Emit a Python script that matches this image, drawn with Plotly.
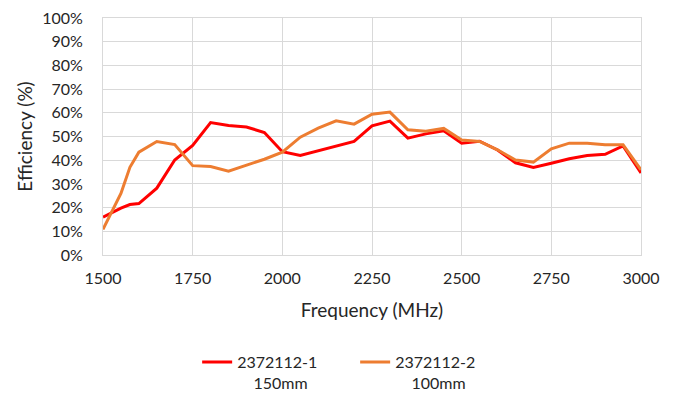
import plotly.graph_objects as go

freq = [1500, 1550, 1575, 1600, 1650, 1700, 1750, 1800, 1850, 1900, 1950, 2000,
        2050, 2100, 2150, 2200, 2250, 2300, 2350, 2400, 2450, 2500, 2550, 2600,
        2650, 2700, 2750, 2800, 2850, 2900, 2950, 3000]

eff_150mm = [16.0, 19.8, 21.3, 21.7, 28.2, 40.1, 46.2, 55.9, 54.6, 54.0, 51.7, 43.6,
             42.0, 44.0, 46.0, 47.9, 54.5, 56.5, 49.3, 51.1, 52.4, 47.2, 48.0, 44.3,
             38.9, 36.9, 38.7, 40.6, 42.0, 42.5, 46.0, 34.6]

eff_100mm = [10.8, 26.0, 37.0, 43.4, 47.9, 46.6, 37.7, 37.3, 35.4, 38.0, 40.4, 43.4,
             49.7, 53.5, 56.6, 55.2, 59.4, 60.3, 52.8, 52.2, 53.4, 48.5, 47.9, 44.4,
             40.1, 39.2, 44.8, 47.2, 47.2, 46.5, 46.5, 35.9]

names = ["2372112-1<br>\u00a0\u00a0\u00a0\u00a0150mm", "2372112-2<br>\u00a0\u00a0\u00a0\u00a0100mm"]
colors = ["#FF0000", "#ED7D31"]

fig = go.Figure()
for ys, name, col in zip([eff_150mm, eff_100mm], names, colors):
    fig.add_trace(go.Scatter(
        x=freq, y=[v / 100 for v in ys], mode="lines", name=name,
        line=dict(color=col, width=3)))

font = dict(family="Lato, Calibri, sans-serif", size=16, color="#262626")

fig.update_layout(
    width=674, height=400,
    margin=dict(l=103, r=33, t=18, b=145, autoexpand=False),
    paper_bgcolor="white", plot_bgcolor="white",
    font=font,
    showlegend=True,
    legend=dict(orientation="h", x=0.175, y=-0.612, xanchor="left", yanchor="bottom",
                valign="top", entrywidth=113, font=font, bgcolor="rgba(0,0,0,0)"),
    xaxis=dict(range=[1500, 3000], dtick=250, tick0=1500, showgrid=True,
               gridcolor="#D9D9D9", gridwidth=1, showline=True, linecolor="#D9D9D9",
               mirror=True, zeroline=False, ticks="", ticklabelstandoff=9,
               automargin=False,
               title=dict(text="Frequency (MHz)", standoff=17)),
    yaxis=dict(range=[0, 1], dtick=0.1, tickformat=".0%", showgrid=True,
               gridcolor="#D9D9D9", gridwidth=1, showline=True, linecolor="#D9D9D9",
               mirror=True, zeroline=False, ticks="", ticklabelstandoff=16,
               automargin=False,
               title=dict(text="Efficiency (%)", standoff=4)),
)

fig.write_html("out.html", config={"displayModeBar": False},
               post_script="document.body.style.margin='0px';")
